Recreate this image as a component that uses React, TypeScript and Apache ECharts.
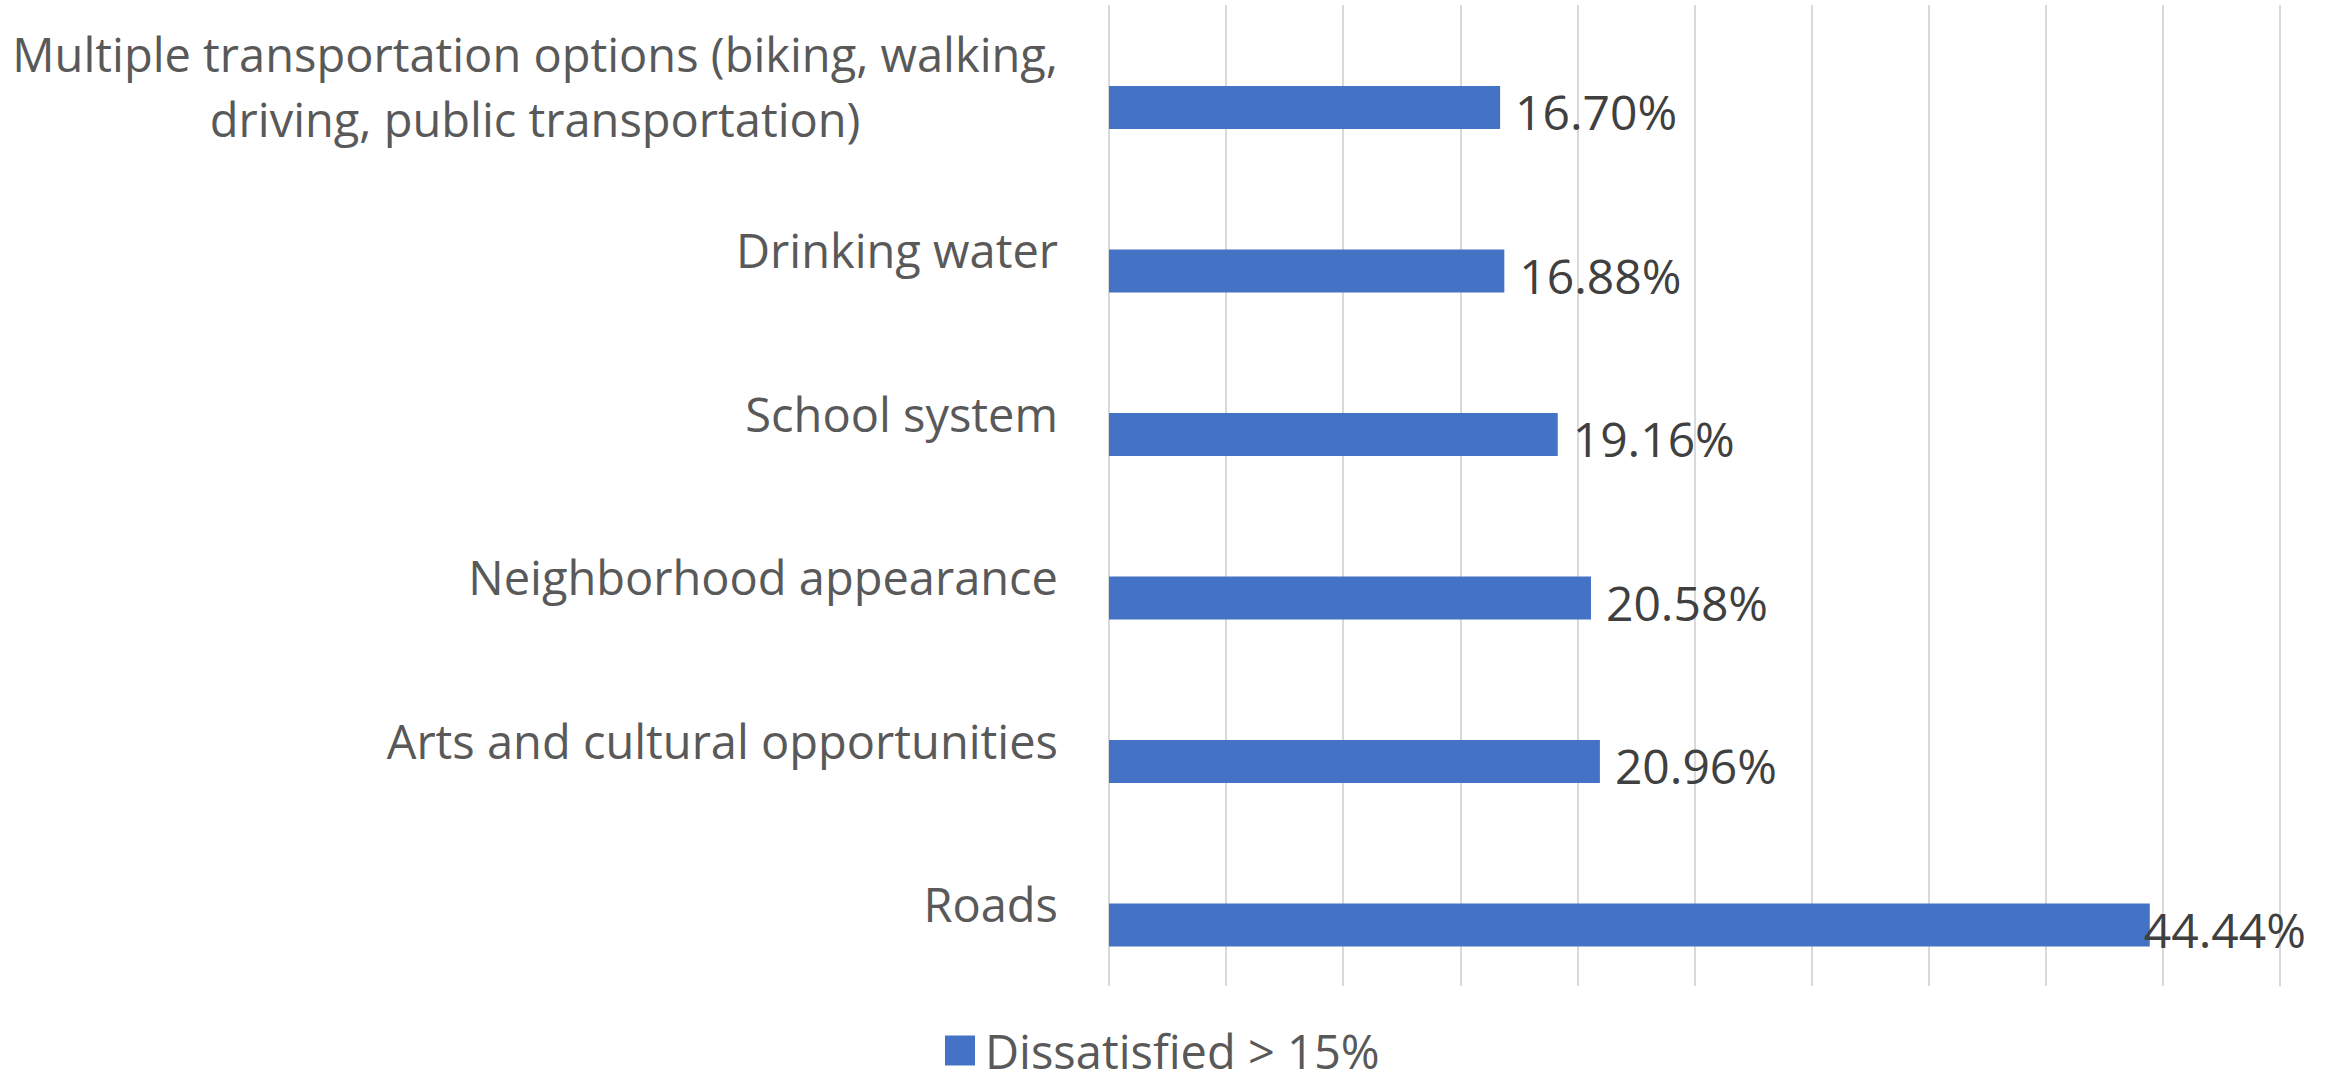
import React, { useEffect, useRef } from "react";
import * as echarts from "echarts";

const categories: string[] = [
  "Multiple transportation options (biking, walking,\ndriving, public transportation)",
  "Drinking water",
  "School system",
  "Neighborhood appearance",
  "Arts and cultural opportunities",
  "Roads",
];
const dissatisfied: number[] = [0.167, 0.1688, 0.1916, 0.2058, 0.2096, 0.4444];
const seriesName = "Dissatisfied > 15%";
const axisMin = 0;
const axisMax = 0.5;
const axisInterval = 0.05;

const FONT = "'Open Sans', sans-serif";

export default function App() {
  const ref = useRef<HTMLDivElement>(null);
  useEffect(() => {
    if (!ref.current) return;
    const chart = echarts.init(ref.current, undefined, { renderer: "svg" });
    const maxIdx = dissatisfied.indexOf(Math.max(...dissatisfied));
    const barData = dissatisfied.map((v, i) =>
      i === maxIdx ? { value: v, label: { offset: [-21, 4] } } : { value: v }
    );
    chart.setOption({
      animation: false,
      backgroundColor: "#ffffff",
      textStyle: { fontFamily: FONT },
      grid: {
        left: 1109,
        right: 51,
        top: 5,
        bottom: 95,
        containLabel: false,
        outerBoundsMode: "none",
      },
      legend: {
        data: [seriesName],
        left: 945,
        top: 1027,
        padding: 0,
        itemWidth: 30,
        itemHeight: 30,
        icon: "rect",
        textStyle: {
          fontFamily: FONT,
          fontSize: 47,
          lineHeight: 47,
          color: "#595959",
          padding: [0, 0, 0, 5],
        },
      },
      xAxis: {
        type: "value",
        min: axisMin,
        max: axisMax,
        interval: axisInterval,
        axisLabel: { show: false },
        axisLine: { show: false },
        axisTick: { show: false },
        splitLine: { show: true, lineStyle: { color: "#d9d9d9", width: 2 } },
      },
      yAxis: {
        type: "category",
        inverse: true,
        data: categories,
        axisLine: { show: false },
        axisTick: { show: false },
        splitLine: { show: false },
        axisLabel: {
          margin: 51,
          fontFamily: FONT,
          fontSize: 47,
          color: "#595959",
          lineHeight: 65,
          formatter: (val: string) => {
            if (val.indexOf("\n") >= 0) {
              return val
                .split("\n")
                .map((l) => "{c|" + l + "}")
                .join("\n");
            }
            return val;
          },
          rich: {
            c: {
              fontFamily: FONT,
              fontSize: 47,
              color: "#595959",
              lineHeight: 65,
              align: "center",
            },
          },
        },
      },
      series: [
        {
          name: "pad",
          type: "bar",
          barWidth: 43,
          barGap: "-3%",
          data: dissatisfied.map(() => null),
          silent: true,
          label: { show: false },
        },
        {
          name: seriesName,
          type: "bar",
          barWidth: 43,
          barGap: "-3%",
          data: barData,
          itemStyle: { color: "#4472C4" },
          label: {
            show: true,
            position: "right",
            distance: 15,
            offset: [0, 4],
            fontFamily: FONT,
            fontSize: 48,
            color: "#404040",
            formatter: (p: any) => (p.value * 100).toFixed(2) + "%",
          },
        },
      ],
    });
    return () => chart.dispose();
  }, []);
  return (
    <div
      ref={ref}
      style={{ position: "fixed", left: 0, top: 0, width: 2331, height: 1081 }}
    />
  );
}
